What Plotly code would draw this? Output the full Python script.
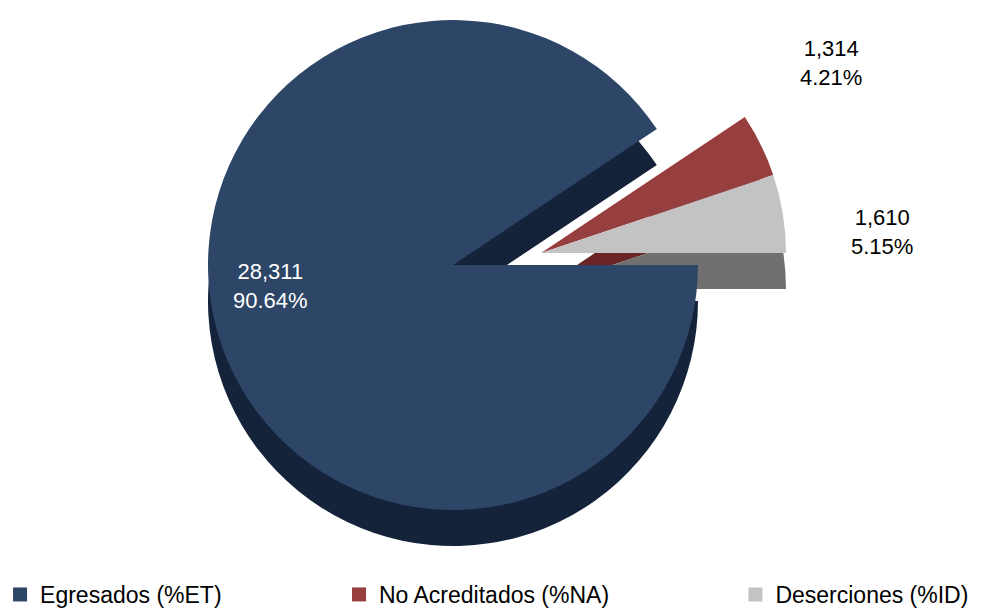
import plotly.graph_objects as go

# ---- data ----
labels = ["Egresados (%ET)", "No Acreditados (%NA)", "Deserciones (%ID)"]
values = [28311, 1314, 1610]
pct_labels = ["90.64%", "4.21%", "5.15%"]
count_labels = ["28,311", "1,314", "1,610"]

# ---- style ----
top_colors = ["#2D4566", "#973F3E", "#C3C3C3"]
side_colors = ["#15233A", "#6A2524", "#707070"]
label_colors = ["white", "black", "black"]
TRANSP = "rgba(0,0,0,0)"
FONT = "Liberation Sans, Arial, sans-serif"

W, H = 991, 608
R = 245            # pie radius in px
CX, CY = 445, 257  # centre of the main top face
DEPTH = 36         # 3D thickness in px
EX, EY = 88, -12   # explode offset of the small slices
# label centres in px (layout only)
label_pos = [(262, 278), (823, 55), (874, 224)]


def dom(cx, cy, r):
    return dict(x=[(cx - r) / W, (cx + r) / W],
                y=[max(0, 1 - (cy + r) / H), min(1, 1 - (cy - r) / H)])


def colors_for(base, main):
    return [c if ((i == 0) == main) else TRANSP for i, c in enumerate(base)]


common = dict(labels=labels, values=values, sort=False, direction="clockwise",
              rotation=90, showlegend=False, hoverinfo="skip", textinfo="none")

fig = go.Figure()
# side (depth) layers
fig.add_trace(go.Pie(**common, domain=dom(CX, CY + DEPTH, R),
                     marker=dict(colors=colors_for(side_colors, True), line=dict(width=0))))
fig.add_trace(go.Pie(**common, domain=dom(CX + EX, CY + EY + DEPTH, R),
                     marker=dict(colors=colors_for(side_colors, False), line=dict(width=0))))
# top faces
fig.add_trace(go.Pie(**common, domain=dom(CX, CY, R),
                     marker=dict(colors=colors_for(top_colors, True), line=dict(width=0))))
fig.add_trace(go.Pie(**common, domain=dom(CX + EX, CY + EY, R),
                     marker=dict(colors=colors_for(top_colors, False), line=dict(width=0))))

# data labels
for c, p, col, (lx, ly) in zip(count_labels, pct_labels, label_colors, label_pos):
    fig.add_annotation(x=lx / W, y=1 - ly / H, xref="paper", yref="paper",
                       text=f"{c}<br>{p}", showarrow=False, align="center",
                       xanchor="center", yanchor="middle",
                       font=dict(family=FONT, size=22, color=col))

# legend entries
legend_keys = ["legend", "legend2", "legend3"]
legend_x = [-0.008, 0.334, 0.734]
for lab, col, lk in zip(labels, top_colors, legend_keys):
    fig.add_trace(go.Scatter(x=[None], y=[None], mode="markers", name=lab, legend=lk,
                             marker=dict(symbol="square", size=14, color=col),
                             showlegend=True, hoverinfo="skip"))

layout_legends = {}
for lk, lx in zip(legend_keys, legend_x):
    layout_legends[lk] = dict(x=lx, y=0, xanchor="left", yanchor="bottom",
                              orientation="h", bgcolor="rgba(0,0,0,0)",
                              font=dict(family=FONT, size=23, color="black"))

fig.update_layout(
    width=W, height=H,
    margin=dict(l=0, r=0, t=0, b=0, autoexpand=False),
    paper_bgcolor="white", plot_bgcolor="white",
    xaxis=dict(visible=False), yaxis=dict(visible=False),
    font=dict(family=FONT, size=22, color="black"),
    **layout_legends,
)

fig.write_html("out.html")
